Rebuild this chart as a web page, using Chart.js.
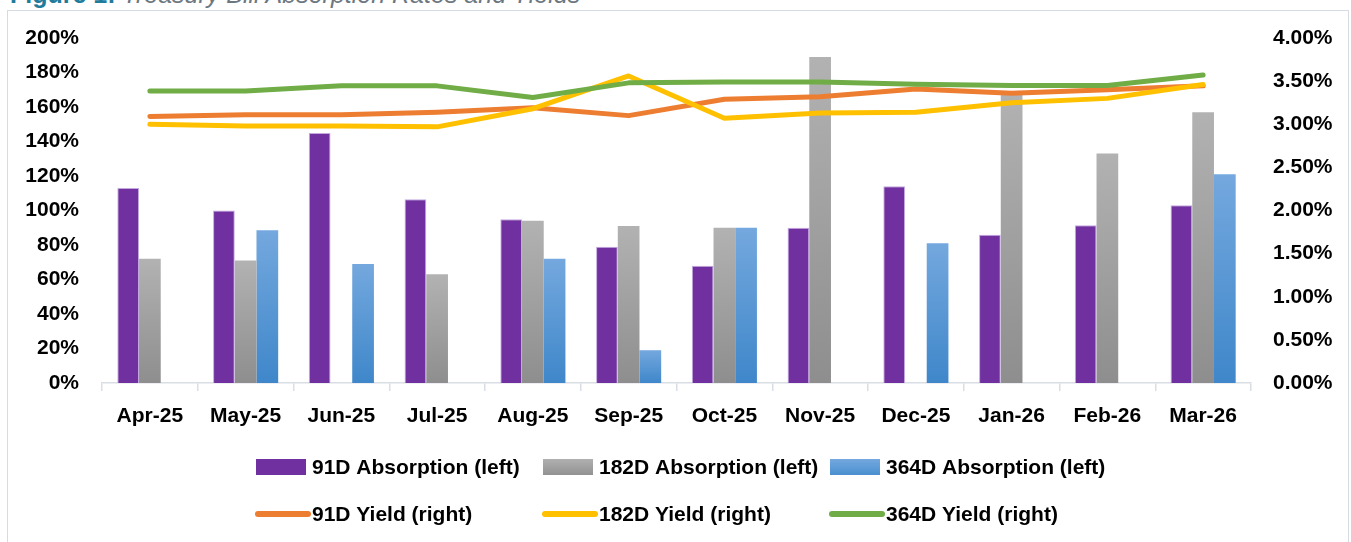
<!DOCTYPE html>
<html>
<head>
<meta charset="utf-8">
<script src="https://cdn.jsdelivr.net/npm/chart.js@4.4.1/dist/chart.umd.min.js"></script>
<style>
  html, body { margin: 0; padding: 0; background: #fff; overflow: hidden; }
  #wrap { position: relative; width: 1351px; height: 542px; overflow: hidden; }
  #frame { position: absolute; left: 7px; top: 10px; width: 1342px; height: 600px;
           border: 1.5px solid #d6dce4; box-sizing: border-box; }
  #title { position: absolute; left: 10px; top: -20px; font-family: "Liberation Sans", sans-serif;
           font-size: 25px; white-space: nowrap; color: #6d7780; font-style: italic; }
  #title b { color: #1f7c9c; font-style: normal; }
  canvas { position: absolute; left: 0; top: 0; }
</style>
</head>
<body>
<div id="wrap">
  <div id="frame"></div>
  <div id="title"><b>Figure 1:</b> Treasury Bill Absorption Rates and Yields</div>
  <canvas id="tbillChart" width="1351" height="542"></canvas>
</div>
<script>
var months = ["Apr-25", "May-25", "Jun-25", "Jul-25", "Aug-25", "Sep-25", "Oct-25", "Nov-25", "Dec-25", "Jan-26", "Feb-26", "Mar-26"];

// absorption rates, % (left axis)
var abs91 = [113, 100, 145, 106.5, 95, 79, 68, 90, 114, 86, 91.5, 103];
var abs182 = [72, 71, null, 63, 94, 91, 90, 189, null, 168, 133, 157];
var abs364 = [null, 88.5, 69, null, 72, 19, 90, null, 81, null, null, 121];

// yields, % (right axis)
var yld91 = [3.09, 3.11, 3.11, 3.14, 3.19, 3.10, 3.29, 3.32, 3.41, 3.36, 3.40, 3.445];
var yld182 = [3.00, 2.98, 2.98, 2.97, 3.18, 3.56, 3.07, 3.13, 3.14, 3.25, 3.30, 3.46];
var yld364 = [3.385, 3.385, 3.445, 3.445, 3.31, 3.48, 3.49, 3.49, 3.465, 3.45, 3.45, 3.57];

var leftTicks = [0, 20, 40, 60, 80, 100, 120, 140, 160, 180, 200];
var rightTicks = [0, 0.5, 1, 1.5, 2, 2.5, 3, 3.5, 4];

var FONT = "'Liberation Sans', Arial, sans-serif";
var FSIZE = 21;

function barGradient(top, bottom) {
	return function(c) {
		var chart = c.chart;
		if (!chart.chartArea || c.type !== 'data' || c.raw == null) return bottom;
		var y = chart.scales.y.getPixelForValue(c.raw);
		var y0 = chart.scales.y.getPixelForValue(0);
		var g = chart.ctx.createLinearGradient(0, y, 0, y0);
		g.addColorStop(0, top);
		g.addColorStop(1, bottom);
		return g;
	};
}

var barSet = function(label, data, fill, edge) {
	return {
		type: "bar", label: label, data: data, yAxisID: "y", order: 10,
		backgroundColor: fill, borderColor: edge, borderWidth: edge ? 1 : 0,
		categoryPercentage: 0.68, barPercentage: 1
	};
};
var lineSet = function(label, data, color, ord) {
	return {
		type: "line", label: label, data: data, yAxisID: "y1", order: ord,
		borderColor: color, backgroundColor: color, borderWidth: 5,
		borderCapStyle: "round", borderJoinStyle: "round",
		pointRadius: 0, pointHoverRadius: 0, tension: 0, fill: false
	};
};

// legend in a 3-column grid, like the original
var gridLegend = {
	id: "gridLegend",
	afterDraw: function(chart) {
		var ctx = chart.ctx, area = chart.chartArea;
		var colW = 287;
		var x0 = (area.left + area.right) / 2 - 1.5 * colW + 10;
		var rows = [area.bottom + 84, area.bottom + 131];
		ctx.save();
		ctx.font = "bold " + FSIZE + "px " + FONT;
		ctx.textBaseline = "middle";
		chart.data.datasets.forEach(function(ds, i) {
			var x = x0 + (i % 3) * colW;
			var y = rows[Math.floor(i / 3)];
			if (ds.type === "bar") {
				var g = ctx.createLinearGradient(0, y - 8, 0, y + 8);
				g.addColorStop(0, ds.swatch[0]);
				g.addColorStop(1, ds.swatch[1]);
				ctx.fillStyle = g;
				ctx.fillRect(x, y - 8, 50, 16);
			} else {
				ctx.strokeStyle = ds.borderColor;
				ctx.lineWidth = 6;
				ctx.lineCap = "round";
				ctx.beginPath();
				ctx.moveTo(x + 2, y);
				ctx.lineTo(x + 52, y);
				ctx.stroke();
			}
			ctx.fillStyle = "#000";
			ctx.fillText(ds.label, x + 56, y + 1);
		});
		ctx.restore();
	}
};

var d91 = barSet("91D Absorption (left)", abs91, "#7030a0", "rgba(190,160,220,0.9)");
d91.swatch = ["#7030a0", "#7030a0"];
var d182 = barSet("182D Absorption (left)", abs182, barGradient("#b2b2b2", "#8e8e8e"));
d182.swatch = ["#b0b0b0", "#929292"];
var d364 = barSet("364D Absorption (left)", abs364, barGradient("#74a8de", "#3f87ca"));
d364.swatch = ["#74a8de", "#4a8fd0"];

new Chart("tbillChart", {
	data: {
		labels: months,
		datasets: [
			d91, d182, d364,
			lineSet("91D Yield (right)", yld91, "#ed7d31", 3),
			lineSet("182D Yield (right)", yld182, "#ffc000", 2),
			lineSet("364D Yield (right)", yld364, "#70ad47", 1)
		]
	},
	options: {
		responsive: false,
		animation: false,
		layout: { padding: { top: 38, left: 0, right: 0, bottom: 0 } },
		plugins: { legend: { display: false }, tooltip: { enabled: false }, title: { display: false } },
		scales: {
			x: {
				offset: true,
				grid: { display: true, drawOnChartArea: false, drawTicks: true, tickLength: 8, color: "#d9dde4", lineWidth: 1.5, offset: true },
				border: { display: true, color: "#d9dde4", width: 1.5 },
				ticks: { color: "#000", font: { family: FONT, size: FSIZE, weight: "bold" }, padding: 13, maxRotation: 0, autoSkip: false },
				afterFit: function(s) { s.height = 159; }
			},
			y: {
				position: "left", min: 0, max: 200,
				grid: { display: false, drawTicks: false },
				border: { display: false },
				afterBuildTicks: function(s) { s.ticks = leftTicks.map(function(v) { return { value: v }; }); },
				ticks: { color: "#000", padding: 23, font: { family: FONT, size: FSIZE, weight: "bold" },
					callback: function(v) { return v + "%"; } },
				afterFit: function(s) { s.width = 102; }
			},
			y1: {
				position: "right", min: 0, max: 4,
				grid: { display: false, drawTicks: false },
				border: { display: false },
				afterBuildTicks: function(s) { s.ticks = rightTicks.map(function(v) { return { value: v }; }); },
				ticks: { color: "#000", padding: 22, font: { family: FONT, size: FSIZE, weight: "bold" },
					callback: function(v) { return v.toFixed(2) + "%"; } },
				afterFit: function(s) { s.width = 100; }
			}
		}
	},
	plugins: [gridLegend]
});
</script>
</body>
</html>
